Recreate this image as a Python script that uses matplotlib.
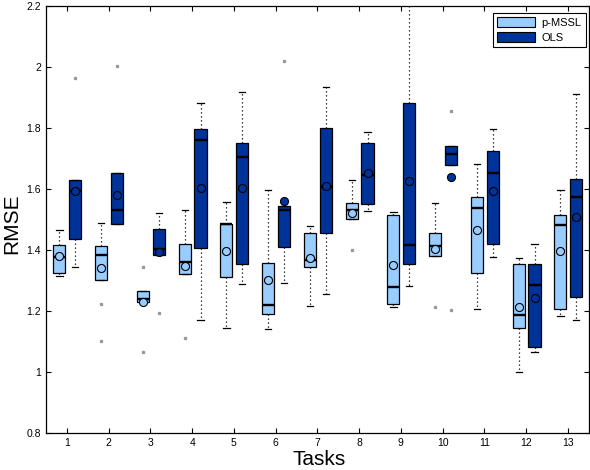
import matplotlib
matplotlib.use("Agg")
import matplotlib.pyplot as plt
from matplotlib.patches import Patch

plt.rcParams['font.family'] = ['Liberation Sans', 'DejaVu Sans']

tasks = list(range(1, 14))

# p-MSSL (light boxes)
mssl_lo = [1.315, 1.304, 1.229, 1.321, 1.144, 1.141, 1.216, 1.501, 1.214, 1.380, 1.209, 1.001, 1.185]
mssl_q1 = [1.326, 1.304, 1.229, 1.321, 1.311, 1.190, 1.346, 1.501, 1.223, 1.380, 1.324, 1.144, 1.206]
mssl_med = [1.379, 1.384, 1.240, 1.362, 1.486, 1.221, 1.369, 1.532, 1.278, 1.415, 1.538, 1.189, 1.483]
mssl_q3 = [1.416, 1.413, 1.265, 1.419, 1.487, 1.357, 1.455, 1.555, 1.514, 1.455, 1.573, 1.354, 1.517]
mssl_hi = [1.466, 1.488, 1.265, 1.533, 1.559, 1.599, 1.480, 1.629, 1.524, 1.555, 1.681, 1.373, 1.596]
mssl_mean = [1.381, 1.341, 1.229, 1.349, 1.398, 1.301, 1.373, 1.523, 1.350, 1.403, 1.466, 1.213, 1.398]
mssl_out = [[], [1.225, 1.103], [1.346, 1.067], [1.111], [], [], [], [1.400], [], [1.215], [], [], []]

# OLS (dark boxes)
ols_lo = [1.346, 1.485, 1.386, 1.173, 1.291, 1.293, 1.255, 1.529, 1.283, 1.678, 1.378, 1.066, 1.173]
ols_q1 = [1.438, 1.485, 1.386, 1.406, 1.354, 1.411, 1.458, 1.553, 1.354, 1.678, 1.419, 1.082, 1.247]
ols_med = [1.595, 1.533, 1.405, 1.761, 1.706, 1.531, 1.608, 1.645, 1.416, 1.716, 1.654, 1.285, 1.574]
ols_q3 = [1.629, 1.652, 1.468, 1.796, 1.753, 1.544, 1.802, 1.753, 1.881, 1.743, 1.724, 1.354, 1.635]
ols_hi = [1.629, 1.652, 1.521, 1.884, 1.917, 1.544, 1.934, 1.786, 2.25, 1.743, 1.796, 1.419, 1.913]
ols_mean = [1.595, 1.580, 1.395, 1.605, 1.605, 1.560, 1.611, 1.653, 1.627, 1.641, 1.594, 1.242, 1.509]
ols_out = [[1.965], [2.004], [1.193], [], [], [2.021], [], [], [], [1.857, 1.205], [], [], []]

light = '#99ccff'
dark = '#003399'


def make_stats(lo, q1, med, q3, hi, mean, out):
    stats = []
    for i in range(len(med)):
        stats.append(dict(whislo=lo[i], q1=q1[i], med=med[i], q3=q3[i],
                          whishi=hi[i], mean=mean[i], fliers=out[i]))
    return stats


fig = plt.figure(figsize=(5.9, 4.7), dpi=100)
ax = fig.add_axes([0.078, 0.078, 0.92, 0.909])

groups = [
    (make_stats(mssl_lo, mssl_q1, mssl_med, mssl_q3, mssl_hi, mssl_mean, mssl_out), -0.18, light),
    (make_stats(ols_lo, ols_q1, ols_med, ols_q3, ols_hi, ols_mean, ols_out), 0.2, dark),
]
for stats, off, color in groups:
    ax.bxp(stats, positions=[t + off for t in tasks], widths=0.29,
           capwidths=0.15, patch_artist=True, showmeans=True,
           boxprops=dict(facecolor=color, edgecolor='black', linewidth=0.9),
           medianprops=dict(color='black', linewidth=1.7),
           whiskerprops=dict(color='black', linestyle=(0, (1, 2.2)), linewidth=0.9),
           capprops=dict(color='black', linewidth=0.9),
           flierprops=dict(marker='s', markersize=1.4, markerfacecolor='#999999',
                           markeredgecolor='#999999', linestyle='none'),
           meanprops=dict(marker='o', markersize=5.8, markerfacecolor=color,
                          markeredgecolor='black', markeredgewidth=0.8))

ax.set_xlim(0.5, 13.5)
ax.set_ylim(0.8, 2.2)
ax.set_xticks(tasks)
ax.set_xticklabels([str(t) for t in tasks])
ax.set_yticks([0.8, 1.0, 1.2, 1.4, 1.6, 1.8, 2.0, 2.2])
ax.set_yticklabels(['0.8', '1', '1.2', '1.4', '1.6', '1.8', '2', '2.2'])
ax.tick_params(direction='in', top=True, right=True, length=3.6, width=0.8,
               labelsize=7.5)
for sp in ax.spines.values():
    sp.set_linewidth(0.9)

ax.set_xlabel('Tasks', fontsize=15)
ax.xaxis.set_label_coords(0.503, -0.04)
ax.set_ylabel('RMSE', fontsize=15)
ax.yaxis.set_label_coords(-0.046, 0.49)

handles = [Patch(facecolor=light, edgecolor='black', linewidth=0.8, label='p-MSSL'),
           Patch(facecolor=dark, edgecolor='black', linewidth=0.8, label='OLS')]
leg = ax.legend(handles=handles, loc='upper right', bbox_to_anchor=(0.994, 0.985),
                borderaxespad=0, fontsize=8, fancybox=False, edgecolor='black',
                framealpha=1, handlelength=3.4, handleheight=1.0,
                handletextpad=0.55, labelspacing=0.4, borderpad=0.4)
leg.get_frame().set_linewidth(0.8)

fig.savefig('out.png', dpi=100)
